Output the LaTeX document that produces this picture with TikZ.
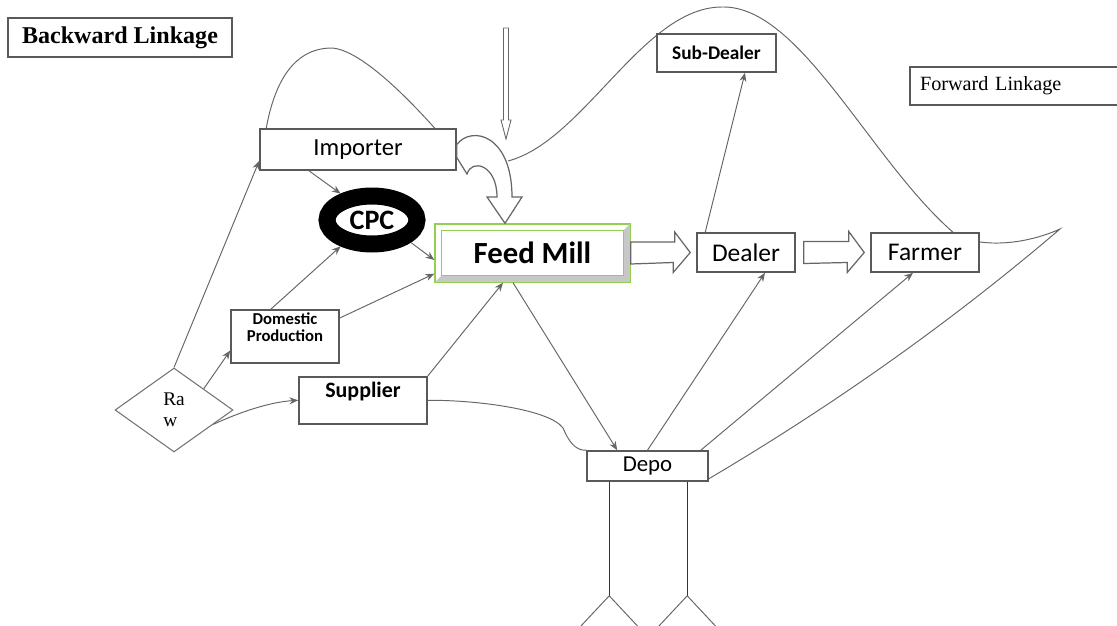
\documentclass[tikz,border=0pt]{standalone}
\usepackage{fontspec}
\setmainfont{Carlito}
\newfontfamily\linkfont{Liberation Serif}
\usetikzlibrary{arrows.meta,calc,shapes.geometric,backgrounds}
\definecolor{millgreen}{RGB}{146,208,80}

\begin{document}
\begin{tikzpicture}[>={Stealth[length=5pt,width=4pt]},x=0.02cm,y=-0.02cm,
  box/.style={draw=black!65,line width=0.9pt,fill=white,inner sep=0pt},
  link/.style={draw=black!60,line width=0.55pt},
  blockarrow/.style={draw=black!60,line width=0.7pt,fill=white}]
\useasboundingbox (0,0) rectangle (1117,626);
% linkage titles
\node[box,minimum width=4.48cm,minimum height=0.78cm,font=\linkfont\bfseries\fontsize{13.7}{16}\selectfont] (backward) at (120,37.5) {Backward Linkage};
\node[box,text width=4.1cm,align=left,inner xsep=0.2cm,minimum height=0.76cm,font=\linkfont\fontsize{11.5}{14}\selectfont] (forward) at (1022.5,86) {Forward Linkage};
% actors
\node[box,minimum width=3.92cm,minimum height=0.82cm,font=\fontsize{14}{16}\selectfont] (importer) at (358,149.5) {Importer};
\node[ellipse,draw=black,line width=0.34cm,fill=white,minimum width=1.8cm,minimum height=0.96cm,inner sep=0pt,font=\bfseries\fontsize{16}{18}\selectfont] (cpc) at (372,220) {CPC};
\node[box,draw=millgreen,line width=0.8pt,minimum width=3.9cm,minimum height=1.16cm,font=\bfseries\fontsize{17.5}{20}\selectfont] (feed) at (532.5,253) {Feed Mill};
\fill[black!22] (feed.south west) -- (feed.south east) -- (feed.north east) -- ($(feed.north east)+(-7,7)$) -- ($(feed.south east)+(-7,-7)$) -- ($(feed.south west)+(7,-7)$) -- cycle;
\draw[millgreen,line width=0.8pt] (feed.south west) rectangle (feed.north east);
\draw[millgreen,line width=0.6pt] ($(feed.south west)+(7,-7)$) rectangle ($(feed.north east)+(-7,7)$);
\node[box,minimum width=1.96cm,minimum height=0.78cm,font=\fontsize{14.5}{17}\selectfont] (dealer) at (746,252.5) {Dealer};
\node[box,minimum width=2.16cm,minimum height=0.78cm,font=\fontsize{14.5}{17}\selectfont] (farmer) at (925,252.5) {Farmer};
\node[box,minimum width=2.38cm,minimum height=0.76cm,font=\bfseries\fontsize{11}{13}\selectfont] (subdealer) at (716.5,53) {Sub-Dealer};
\node[box,anchor=north,minimum width=2.16cm,inner ysep=0.08cm,text height=0.56cm,text depth=0.34cm,font=\bfseries\fontsize{9.5}{9}\selectfont] (domestic) at (285,309) {\shortstack{Domestic\\Production}};
\node[box,anchor=north,minimum width=2.56cm,inner ysep=0.08cm,text height=0.34cm,text depth=0.44cm,font=\bfseries\fontsize{12.5}{15}\selectfont] (supplier) at (363,376) {Supplier};
\node[diamond,draw=black!55,line width=0.6pt,fill=white,minimum width=2.36cm,minimum height=1.68cm,inner sep=0pt,align=left,font=\linkfont\fontsize{11}{12}\selectfont] (raw) at (174,410) {Ra\\w};
\node[box,minimum width=2.42cm,minimum height=0.6cm,font=\fontsize{13}{15}\selectfont] (depo) at (647.5,466) {Depo};
% flows
\draw[link,->] (raw.north) -- ([yshift=0.2cm]importer.south west);
\draw[link,->] (raw.north east) -- ([yshift=0.26cm]domestic.south west);
\draw[link,->] (raw.-20) .. controls (240,412) and (270,402) .. (supplier.west);
\draw[link,->] ([xshift=-0.98cm]importer.south) -- (cpc.140);
\draw[link,->] ([xshift=-0.28cm]domestic.north) -- (cpc.220);
\draw[link,->] (cpc.-30) -- ([yshift=-0.14cm]feed.west);
\draw[link,->] ([yshift=-0.18cm]domestic.north east) -- ([yshift=0.18cm]feed.south west);
\draw[link,->] (supplier.north east) -- ([xshift=-0.59cm]feed.south);
\draw[link,->] ([xshift=-0.39cm]feed.south) -- ([xshift=0.62cm]depo.north west);
\draw[link,->] (depo.north) -- ([xshift=0.38cm]dealer.south);
\draw[link,->] ([xshift=-0.16cm]depo.north east) -- ([xshift=-0.24cm]farmer.south);
\draw[link,->] ([xshift=0.18cm]dealer.north west) -- ([xshift=0.57cm]subdealer.south);
% block arrows
\draw[blockarrow] ([yshift=0.22cm]feed.east) -- ++(44,0) -- ++(0,-10) -- ([xshift=-0.12cm]dealer.west) -- ++(-17,20) -- ++(0,-10) -- ([yshift=-0.22cm]feed.east) -- cycle;
\draw[blockarrow] ($(dealer.east)+(8,-11)$) -- ++(45,0) -- ++(0,-10) -- ([xshift=-0.12cm]farmer.west) -- ++(-17,20) -- ++(0,-10) -- ($(dealer.east)+(8,11)$) -- cycle;
\draw[blockarrow] ([yshift=0.1cm]importer.east) .. controls (472,125) and (512,135) .. (512,197) -- (522,197) -- ([xshift=-0.55cm]feed.north) -- (487,197) -- (497,197) .. controls (497,165) and (472,158) .. (467,174) -- ([yshift=-0.16cm]importer.east) -- cycle;
\coordinate (feedin) at (506,28);
\draw[blockarrow,line width=0.5pt] ($(feedin)+(-2.5,0)$) -- ++(0,92) -- ++(-2.5,0) -- (506,139) -- (511,120) -- ++(-2.5,0) -- ($(feedin)+(2.5,0)$) -- cycle;
% linkage curves
\begin{scope}[on background layer]
\draw[link] ([xshift=0.14cm]importer.north west) .. controls (275,80) and (295,48) .. (332,48) .. controls (360,50) and (405,95) .. ([xshift=-0.44cm]importer.north east);
\draw[link] (508,161) .. controls (584,141) and (643,7) .. (722,7) .. controls (800,5) and (870,160) .. ([xshift=0.56cm]farmer.north);
\draw[link] ([yshift=0.21cm]farmer.east) .. controls (1010,246) and (1040,238) .. (1060,229) .. controls (950,323) and (832,406) .. ([yshift=0.06cm]depo.south east);
\draw[link] (supplier.east) .. controls (480,400) and (550,410) .. (563,428) .. controls (568,440) and (575,451) .. (depo.north west);
\end{scope}
% depo legs
\draw[black!80,line width=0.6pt] ([xshift=0.46cm]depo.south west) -- ++(0,114) coordinate (legl);
\draw[black!80,line width=0.6pt] ([xshift=2.02cm]depo.south west) -- ++(0,114) coordinate (legr);
\draw[link] ($(legl)+(-29,31)$) -- (legl) -- ++(29,31);
\draw[link] ($(legr)+(-29,31)$) -- (legr) -- ++(29,31);
\end{tikzpicture}
\end{document}
